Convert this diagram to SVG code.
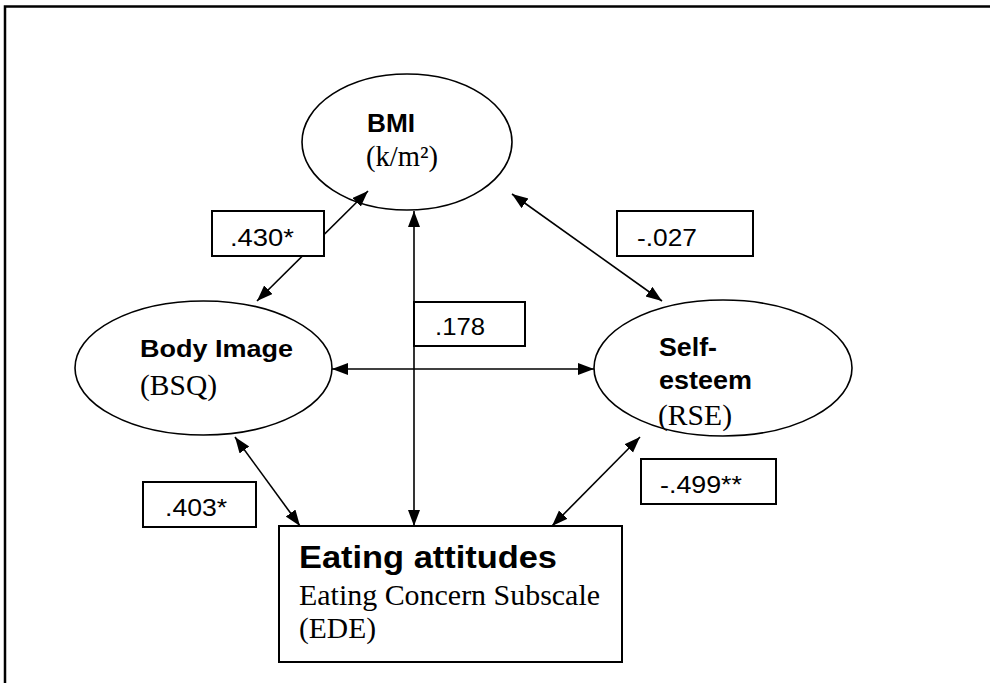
<svg xmlns="http://www.w3.org/2000/svg" width="990" height="683" viewBox="0 0 990 683">
<style>
.node{fill:#fff;stroke:#000;stroke-width:1.6}
.box{fill:#fff;stroke:#000;stroke-width:2}
.conn{stroke:#000;stroke-width:1.6;fill:none;marker-start:url(#ah);marker-end:url(#ah)}
.b{font-family:"Liberation Sans",Arial,sans-serif;font-weight:bold;fill:#000}
.s{font-family:"Liberation Serif","Times New Roman",serif;fill:#000}
.n{font-family:"Liberation Sans",Arial,sans-serif;font-size:23px;fill:#000}
</style>
<defs>
<marker id="ah" markerUnits="userSpaceOnUse" markerWidth="17" markerHeight="13" refX="16" refY="6" orient="auto-start-reverse">
<path d="M0,0 L16,6 L0,12 z" fill="#000"/>
</marker>
</defs>
<rect width="990" height="683" fill="#fff"/>
<path d="M5,683 L5,6.5 L990,6.5" fill="none" stroke="#000" stroke-width="2.5"/>
<g id="bmi">
<ellipse class="node" cx="407" cy="142" rx="105" ry="68"/>
<text class="b" x="367" y="132" font-size="25" textLength="48" lengthAdjust="spacingAndGlyphs">BMI</text>
<text class="s" x="366" y="166" font-size="29" textLength="72" lengthAdjust="spacingAndGlyphs">(k/m²)</text>
</g>
<g id="body-image">
<ellipse class="node" cx="203.5" cy="368" rx="128.5" ry="67"/>
<text class="b" x="140" y="357" font-size="24" textLength="153" lengthAdjust="spacingAndGlyphs">Body Image</text>
<text class="s" x="140" y="395" font-size="29" textLength="77" lengthAdjust="spacingAndGlyphs">(BSQ)</text>
</g>
<g id="self-esteem">
<ellipse class="node" cx="723" cy="368" rx="129" ry="68"/>
<text class="b" x="659" y="356" font-size="25" textLength="58" lengthAdjust="spacingAndGlyphs">Self-</text>
<text class="b" x="659" y="389" font-size="25" textLength="93" lengthAdjust="spacingAndGlyphs">esteem</text>
<text class="s" x="658" y="425" font-size="29" textLength="74" lengthAdjust="spacingAndGlyphs">(RSE)</text>
</g>
<g id="eating-attitudes">
<rect class="box" x="279" y="526" width="343" height="136"/>
<text class="b" x="299" y="568" font-size="32" textLength="258" lengthAdjust="spacingAndGlyphs">Eating attitudes</text>
<text class="s" x="299" y="605" font-size="29" textLength="301" lengthAdjust="spacingAndGlyphs">Eating Concern Subscale</text>
<text class="s" x="299" y="638" font-size="29" textLength="77" lengthAdjust="spacingAndGlyphs">(EDE)</text>
</g>
<g id="connectors">
<line class="conn" x1="368" y1="191" x2="257" y2="301"/>
<line class="conn" x1="512" y1="194" x2="662" y2="301"/>
<line class="conn" x1="414" y1="211" x2="414" y2="526"/>
<line class="conn" x1="332" y1="369" x2="594" y2="369"/>
<line class="conn" x1="235" y1="437" x2="300" y2="526"/>
<line class="conn" x1="640" y1="437" x2="552" y2="526"/>
</g>
<g id="label-430">
<rect class="box" x="212" y="211" width="112" height="45"/>
<text class="n" x="230" y="246" textLength="64" lengthAdjust="spacingAndGlyphs">.430*</text>
</g>
<g id="label-027">
<rect class="box" x="617" y="211" width="136" height="45"/>
<text class="n" x="637" y="246" textLength="60" lengthAdjust="spacingAndGlyphs">-.027</text>
</g>
<g id="label-178">
<rect class="box" x="414" y="302" width="111" height="44"/>
<text class="n" x="435" y="335" textLength="50" lengthAdjust="spacingAndGlyphs">.178</text>
</g>
<g id="label-403">
<rect class="box" x="143" y="482" width="113" height="45"/>
<text class="n" x="165" y="516" textLength="62" lengthAdjust="spacingAndGlyphs">.403*</text>
</g>
<g id="label-499">
<rect class="box" x="641" y="459" width="135" height="45"/>
<text class="n" x="660" y="493" textLength="82" lengthAdjust="spacingAndGlyphs">-.499**</text>
</g>
</svg>
